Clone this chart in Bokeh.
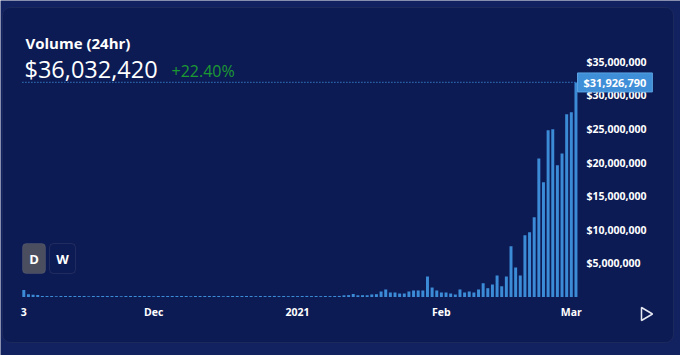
from datetime import date
from bokeh.plotting import figure
from bokeh.models import (Range1d, FixedTicker, NumeralTickFormatter, Label,
                          BoxAnnotation, PolyAnnotation, ColumnDataSource)
from bokeh.embed import file_html
from bokeh.resources import INLINE

# ---------------- data ----------------
start_date = date(2020, 11, 3)          # first daily bar
# daily volume in millions of USD, Nov 3 2020 -> Mar 2 2021
volume_m = [
    1.05, 0.42, 0.35, 0.30,
    0.15, 0.14, 0.15, 0.13, 0.15, 0.14, 0.16, 0.15, 0.14, 0.15, 0.13, 0.15,
    0.14, 0.15, 0.16, 0.14, 0.15, 0.13, 0.15, 0.14, 0.15, 0.16, 0.14, 0.15,
    0.13, 0.15, 0.14, 0.15, 0.16, 0.15, 0.14, 0.15, 0.13, 0.15, 0.14, 0.16,
    0.15, 0.14, 0.15, 0.13, 0.15, 0.14, 0.15, 0.16, 0.14, 0.15, 0.13, 0.15,
    0.14, 0.15, 0.16, 0.14, 0.15, 0.13, 0.15, 0.14, 0.15, 0.16, 0.14, 0.15,
    0.13, 0.15, 0.14, 0.15,
    0.16, 0.25, 0.28, 0.45, 0.25, 0.27, 0.26, 0.38, 0.42,
    0.82, 1.12, 0.67, 0.67, 0.52, 0.52, 0.82, 0.97, 0.97, 0.97,
    3.05, 1.41, 0.97, 0.67, 0.67, 0.52, 0.37, 1.12, 0.67, 0.82, 0.67, 1.12,
    2.05, 1.31, 1.86, 3.20, 1.60, 3.05, 7.55, 4.39, 3.20, 9.20, 9.64, 11.87,
    20.60, 17.07, 24.80, 24.95, 19.60, 21.35, 27.20, 27.50, 31.92679,
]
last_volume = 31926790
header_title = "Volume (24hr)"
header_value = "$36,032,420"
header_change = "+22.40%"
y_ticks = [5e6, 10e6, 15e6, 20e6, 25e6, 30e6, 35e6]
x_tick_dates = [date(2020, 11, 3), date(2020, 12, 1), date(2021, 1, 1),
                date(2021, 2, 1), date(2021, 3, 1)]
x_tick_labels = ["3", "Dec", "2021", "Feb", "Mar"]

# ---------------- layout / style ----------------
W, H = 680, 355
PX_PER_DAY = 4.64
DAY0_PX = 23.3
PX_PER_USD = 6.72e-6
ZERO_PX = 296.5
YLABEL_LEFT = 586
XLABEL_TOP = 304

OUTER = "#12215f"
CARD = "#0d1b55"
BAR = "#3b8bd6"
WHITE = "#ffffff"
FONT = "Open Sans"

# the frame covers the whole canvas
x_start = -DAY0_PX / PX_PER_DAY
x_end = x_start + W / PX_PER_DAY
y_start = -(H - ZERO_PX) / PX_PER_USD
y_end = ZERO_PX / PX_PER_USD

def sx(px):  # canvas px -> frame screen x
    return px

def sy(py):  # canvas px (top-down) -> frame screen y (bottom-up)
    return H - py

day_idx = [(i) for i in range(len(volume_m))]
src = ColumnDataSource(dict(day=day_idx, volume=[v * 1e6 for v in volume_m]))

p = figure(width=W, height=H, output_backend="svg", toolbar_location=None,
           x_range=Range1d(x_start, x_end), y_range=Range1d(y_start, y_end),
           min_border_left=0, min_border_right=0,
           min_border_top=0, min_border_bottom=0,
           y_axis_location="right")
p.background_fill_color = OUTER
p.border_fill_color = OUTER
p.outline_line_color = None
p.xgrid.visible = False
p.ygrid.visible = False

# card
card = BoxAnnotation(left=sx(2), right=sx(673), top=sy(7), bottom=sy(342),
                     left_units="screen", right_units="screen",
                     top_units="screen", bottom_units="screen",
                     fill_color=CARD, fill_alpha=1, line_color="#3c4466",
                     line_width=1, border_radius=8, level="underlay")
p.add_layout(card)

p.vbar(x="day", top="volume", bottom=0, width=0.64, source=src,
       fill_color=BAR, line_color=None)

# axes (labels drawn back over the frame)
ya = p.yaxis[0]
ya.ticker = FixedTicker(ticks=y_ticks)
ya.formatter = NumeralTickFormatter(format="$0,0")
xa = p.xaxis[0]
tick_days = [(d - start_date).days for d in x_tick_dates]
xa.ticker = FixedTicker(ticks=tick_days)
xa.major_label_overrides = {t: l for t, l in zip(tick_days, x_tick_labels)}
for ax in (xa, ya):
    ax.axis_line_color = None
    ax.major_tick_line_color = None
    ax.minor_tick_line_color = None
    ax.major_tick_out = 0
    ax.major_tick_in = 0
    ax.minor_tick_out = 0
    ax.minor_tick_in = 0
    ax.major_label_text_color = WHITE
    ax.major_label_text_font = FONT
    ax.major_label_text_font_style = "bold"
    ax.major_label_text_font_size = "10.5px"
ya.major_label_standoff = YLABEL_LEFT - W
xa.major_label_standoff = XLABEL_TOP - H

# last value price line
p.segment(x0=[day_idx[0] - 0.3], x1=[day_idx[-1] + 0.4],
          y0=[last_volume], y1=[last_volume],
          line_color=BAR, line_dash="1 2", line_width=1.2)
p.add_layout(Label(x=sx(577), y=last_volume, x_units="screen", y_units="data",
                   text="${:,.0f}".format(last_volume), text_align="left",
                   text_baseline="middle", text_color=WHITE, text_font=FONT,
                   text_font_style="bold", text_font_size="11px",
                   background_fill_color="#3f8fd8", border_line_color="#5aa2e2",
                   padding=(6, 2)))

# header
p.add_layout(Label(x=sx(25), y=sy(42.5), x_units="screen", y_units="screen",
                   text=header_title, text_color=WHITE, text_font=FONT,
                   text_font_style="bold", text_font_size="15px",
                   text_baseline="middle"))
p.add_layout(Label(x=sx(24), y=sy(68), x_units="screen", y_units="screen",
                   text=header_value, text_color=WHITE, text_font=FONT,
                   text_font_size="23.5px", text_baseline="middle"))
p.add_layout(Label(x=sx(171), y=sy(70.5), x_units="screen", y_units="screen",
                   text=header_change, text_color="#1c9a32", text_font=FONT,
                   text_font_size="16px", text_baseline="middle"))

# D / W buttons
for (l, r, fill, line, txt) in [(22, 45, "#4a4e5e", "#6c7080", "D"),
                                 (49, 75, CARD, "#50577a", "W")]:
    p.add_layout(BoxAnnotation(left=sx(l), right=sx(r), top=sy(243), bottom=sy(273),
                               left_units="screen", right_units="screen",
                               top_units="screen", bottom_units="screen",
                               fill_color=fill, fill_alpha=1, line_color=line,
                               line_width=1, border_radius=4))
    p.add_layout(Label(x=sx((l + r) / 2), y=sy(258), x_units="screen", y_units="screen",
                       text=txt, text_color=WHITE, text_font=FONT,
                       text_font_style="bold", text_font_size="13px",
                       text_align="center", text_baseline="middle"))

# play triangle
p.add_layout(PolyAnnotation(xs=[sx(641), sx(641), sx(652)], ys=[sy(307), sy(320), sy(313.5)],
                            xs_units="screen", ys_units="screen",
                            fill_alpha=0, line_color="#e6e9f2", line_alpha=1,
                            line_width=1.5))

open("out.html", "w").write(file_html(p, INLINE))
